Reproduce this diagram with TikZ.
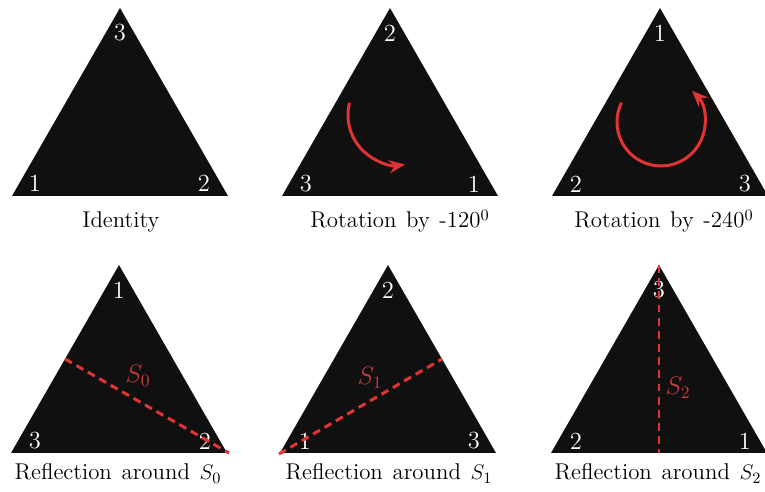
\documentclass[tikz,border=0pt]{standalone}
\usetikzlibrary{arrows.meta,calc}
\definecolor{trired}{RGB}{226,52,52}
\definecolor{labred}{RGB}{200,62,62}
\definecolor{trifill}{RGB}{16,16,16}
\newcommand{\capfont}{\fontsize{13}{16}\selectfont\spaceskip=5.5pt\relax}
\tikzset{
  vlabel/.style={text=white, font=\fontsize{14}{16}\selectfont, inner sep=0pt},
  slabel/.style={text=labred, font=\fontsize{14}{16}\selectfont, inner sep=0pt},
  caption/.style={anchor=base, font=\capfont, inner sep=0pt},
  axis/.style={trired, line width=1.7pt, dash pattern=on 4.5pt off 3pt},
  turn/.style={trired, line width=1.7pt, -{Stealth[length=9pt, width=7.5pt]}},
}
\begin{document}
\begin{tikzpicture}[x=0.02cm, y=-0.02cm]
	\useasboundingbox (0,0) rectangle (765,492);
	
	% the six triangles
	\foreach \t/\x/\y in {a/120/8, b/390/8, c/660/8, d/119/265, e/388/265, f/659/265}{
		\coordinate (\t-top) at (\x,\y);
		\coordinate (\t-left) at (\x-108,\y+188);
		\coordinate (\t-right) at (\x+108,\y+188);
		\coordinate (\t-base) at (\x,\y+188);
		\fill[trifill] (\t-top) -- (\t-left) -- (\t-right) -- cycle;
	}
	
	% corner numbers
	\node[vlabel] (a3) at (120,33) {3};
	\node[vlabel] (a1) at (35,183) {1};
	\node[vlabel] (a2) at (204,183) {2};
	\node[vlabel] (b2) at (390,33) {2};
	\node[vlabel] (b3) at (306,184) {3};
	\node[vlabel] (b1) at (474,184) {1};
	\node[vlabel] (c1) at (660,33) {1};
	\node[vlabel] (c2) at (576,184) {2};
	\node[vlabel] (c3) at (745,184) {3};
	\node[vlabel] (d1) at (119,290) {1};
	\node[vlabel] (d3) at (35,441) {3};
	\node[vlabel] (d2) at (205,441) {2};
	\node[vlabel] (e2) at (388,290) {2};
	\node[vlabel] (e1) at (305,441) {1};
	\node[vlabel] (e3) at (474,441) {3};
	\node[vlabel] (f3) at (659,290) {3};
	\node[vlabel] (f2) at (576,441) {2};
	\node[vlabel] (f1) at (745,441) {1};
	
	% rotations (y points down, so the angles are mirrored)
	\draw[turn] (398,115) ++(-166:50) arc (-166:-278:50);
	\draw[turn] (661,122) ++(-154:44) arc (-154:-405:44);
	
	% reflection axes
	\coordinate (d-mid) at ($(d-top)!0.5!(d-left)$);
	\coordinate (e-mid) at ($(e-top)!0.5!(e-right)$);
	\draw[axis] (d-mid) -- ($(d-right)+(2,0)$);
	\draw[axis] ($(e-left)+(-1,1)$) -- (e-mid);
	\draw[axis] (f-top) -- (f-base);
	\node[slabel] (s0) at (138,376) {$S_0$};
	\node[slabel] (s1) at (370,378) {$S_1$};
	\node[slabel] (s2) at (678,388) {$S_2$};
	
	% captions
	\node[caption] (id) at (121,228) {Identity};
	\node[caption] (r1) at (400,228) {Rotation by -120$^0$};
	\node[caption] (r2) at (664,228) {Rotation by -240$^0$};
	\node[caption] (m0) at (118,480) {Reflection around $S_0$};
	\node[caption] (m1) at (389,480) {Reflection around $S_1$};
	\node[caption] (m2) at (658,480) {Reflection around $S_2$};
\end{tikzpicture}
\end{document}
